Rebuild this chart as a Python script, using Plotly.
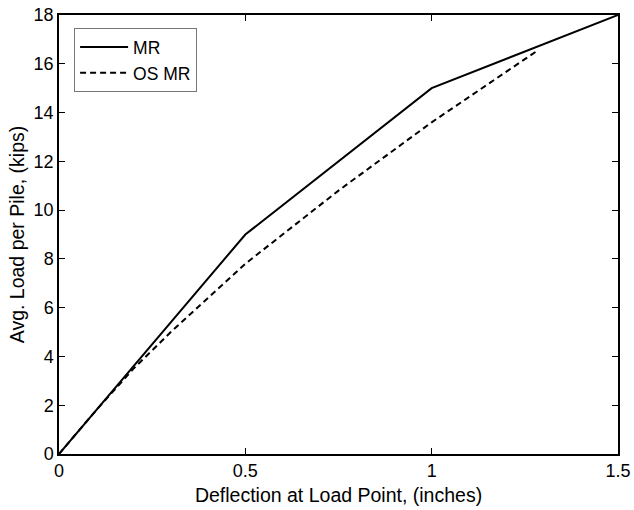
import plotly.graph_objects as go

mr_x = [0, 0.5, 1.0, 1.5]
mr_y = [0, 9.0, 15.0, 18.0]

os_x = [0, 0.1, 0.2, 0.3, 0.5, 0.75, 1.0, 1.28]
os_y = [0, 1.8, 3.5, 5.0, 7.8, 10.8, 13.6, 16.5]

x_ticks = [0, 0.5, 1, 1.5]
x_tick_labels = ["0", "0.5", "1", "1.5"]
y_ticks = list(range(0, 19, 2))

font = "Liberation Sans, Arial, sans-serif"

fig = go.Figure()
fig.add_trace(go.Scatter(x=mr_x, y=mr_y, mode="lines", name="MR",
                         line=dict(color="black", width=2)))
fig.add_trace(go.Scatter(x=os_x, y=os_y, mode="lines", name="OS MR",
                         line=dict(color="black", width=2, dash="6px,4px")))

fig.update_layout(
    width=634, height=510,
    margin=dict(l=59, r=16, t=15, b=56, autoexpand=False),
    paper_bgcolor="white", plot_bgcolor="white",
    font=dict(family=font, size=18, color="black"),
    showlegend=True,
    legend=dict(x=0.027, y=0.97, xanchor="left", yanchor="top",
                bordercolor="#777", borderwidth=1, bgcolor="white",
                font=dict(size=17.5), tracegroupgap=0, itemwidth=48),
)
fig.update_xaxes(range=[0, 1.5], tickvals=x_ticks, ticktext=x_tick_labels,
                 showgrid=False, zeroline=False, showline=True, linecolor="black",
                 linewidth=1.5, mirror="ticks", ticks="inside", ticklen=6,
                 tickcolor="black", tickfont=dict(size=18), automargin=False,
                 title=dict(text="Deflection at Load Point, (inches)", standoff=8,
                            font=dict(size=19.5)))
fig.update_yaxes(range=[0, 18], tickvals=y_ticks,
                 showgrid=False, zeroline=False, showline=True, linecolor="black",
                 linewidth=1.5, mirror="ticks", ticks="inside", ticklen=6,
                 tickcolor="black", tickfont=dict(size=18), automargin=False,
                 title=dict(text="Avg. Load per Pile, (kips)", standoff=4,
                            font=dict(size=19.5)))

fig.write_html("out.html", config={"displayModeBar": False},
               post_script="document.body.style.margin='0px';")
